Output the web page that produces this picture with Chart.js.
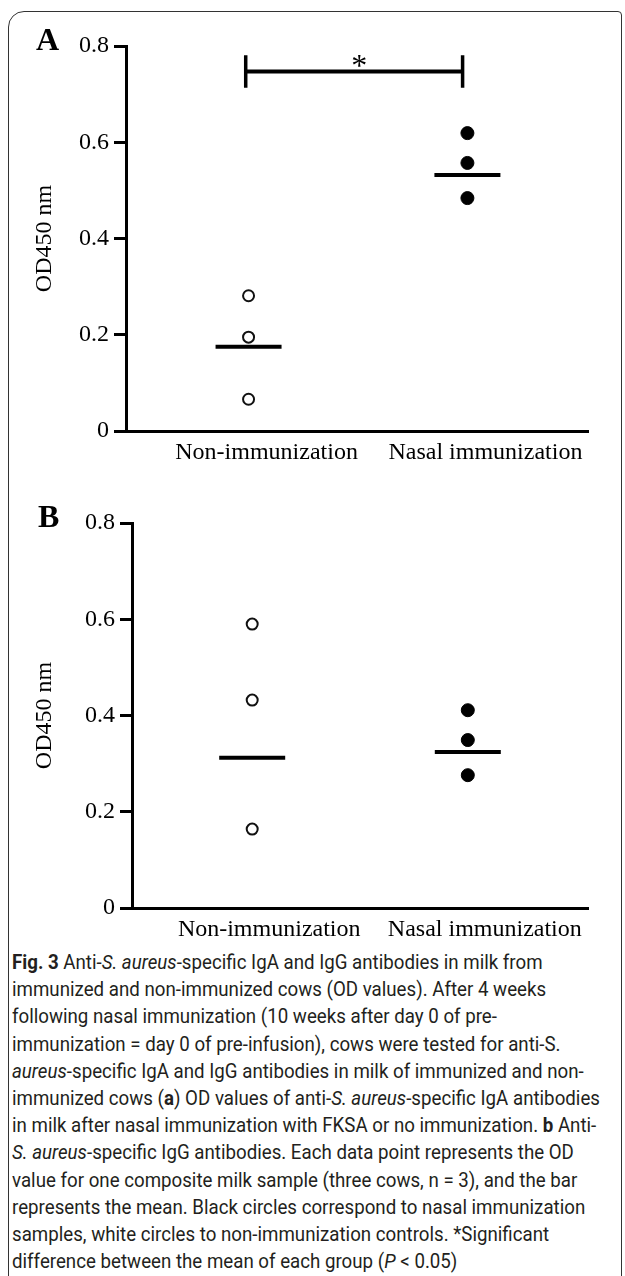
<!DOCTYPE html>
<html>
<head>
<meta charset="utf-8">
<script src="https://cdn.jsdelivr.net/npm/chart.js@4.4.0/dist/chart.umd.min.js"></script>
<style>
body { margin: 0; background: #fff; width: 625px; height: 1276px; overflow: hidden; position: relative; }
#frame { position: absolute; left: 8px; top: 11px; width: 614px; height: 1300px; border: 1.5px solid #333; border-top-left-radius: 16px; border-top-right-radius: 4px; box-sizing: border-box; }
.panel { position: absolute; left: 0; width: 625px; height: 470px; }
.tag { position: absolute; font: bold 32px "Liberation Serif", serif; line-height: 32px; color: #000; }
#caption { position: absolute; left: 12px; top: 949px; font-family: "Roboto", sans-serif; font-size: 20px; line-height: 27.2px; white-space: nowrap; color: #231f20; transform: scaleX(0.935); transform-origin: left top; }
</style>
</head>
<body>
<div id="frame"></div>
<div class="panel" style="top:0"><canvas id="chartA"></canvas></div>
<div class="panel" style="top:477px"><canvas id="chartB"></canvas></div>
<div class="tag" style="left:36px;top:23px">A</div>
<div class="tag" style="left:38px;top:500px">B</div>
<div id="caption">
<b>Fig. 3</b> Anti-<i>S. aureus</i>-specific IgA and IgG antibodies in milk from<br>
immunized and non-immunized cows (OD values). After 4 weeks<br>
following nasal immunization (10 weeks after day 0 of pre-<br>
immunization = day 0 of pre-infusion), cows were tested for anti-S.<br>
<i>aureus</i>-specific IgA and IgG antibodies in milk of immunized and non-<br>
immunized cows (<b>a</b>) OD values of anti-<i>S. aureus</i>-specific IgA antibodies<br>
in milk after nasal immunization with FKSA or no immunization. <b>b</b> Anti-<br>
<i>S. aureus</i>-specific IgG antibodies. Each data point represents the OD<br>
value for one composite milk sample (three cows, n = 3), and the bar<br>
represents the mean. Black circles correspond to nasal immunization<br>
samples, white circles to non-immunization controls. *Significant<br>
difference between the mean of each group (<i>P</i> &lt; 0.05)
</div>
<script>
const groups = ['Non-immunization', 'Nasal immunization'];
const yTicks = [0, 0.2, 0.4, 0.6, 0.8];

// A: IgA
const igaNon = [0.281, 0.195, 0.066];
const igaNasal = [0.619, 0.557, 0.484];
const igaMean = [0.175, 0.532];
const igaBracket = { from: 0.987, to: 1.978, y: 0.747, cap: 0.034 };

// B: IgG
const iggNon = [0.590, 0.432, 0.164];
const iggNasal = [0.411, 0.349, 0.276];
const iggMean = [0.312, 0.324];

const serif = '"Liberation Serif", "Times New Roman", serif';

const bracketPlugin = {
    id: 'bracket',
    afterDatasetsDraw(chart, args, opts) {
        const b = opts.data;
        if (!b) return;
        const { ctx, scales: { x, y } } = chart;
        const x1 = x.getPixelForValue(b.from);
        const x2 = x.getPixelForValue(b.to);
        const yy = y.getPixelForValue(b.y);
        const yTop = y.getPixelForValue(b.y + b.cap);
        const yBot = y.getPixelForValue(b.y - b.cap);
        ctx.save();
        ctx.strokeStyle = '#000';
        ctx.lineWidth = 4;
        ctx.beginPath();
        ctx.moveTo(x1, yy);
        ctx.lineTo(x2, yy);
        ctx.stroke();
        ctx.lineWidth = 3.5;
        ctx.beginPath();
        ctx.moveTo(x1, yTop); ctx.lineTo(x1, yBot);
        ctx.moveTo(x2, yTop); ctx.lineTo(x2, yBot);
        ctx.stroke();
        ctx.fillStyle = '#000';
        ctx.font = '32px ' + serif;
        ctx.textAlign = 'center';
        ctx.textBaseline = 'alphabetic';
        ctx.fillText('*', (x1 + x2) / 2 + 5, yy + 4);
        ctx.restore();
    }
};

function makePanel(id, non, nasal, means, cfg) {
    new Chart(document.getElementById(id), {
        type: 'scatter',
        data: {
            datasets: [
                {
                    data: non.map(v => ({ x: 1, y: v })),
                    pointStyle: 'circle',
                    pointRadius: 5.5,
                    borderWidth: 2,
                    borderColor: '#111',
                    backgroundColor: '#fff'
                },
                {
                    data: nasal.map(v => ({ x: 2, y: v })),
                    pointStyle: 'circle',
                    pointRadius: 6.5,
                    borderWidth: 1,
                    borderColor: '#000',
                    backgroundColor: '#000'
                },
                {
                    data: means.map((v, i) => ({ x: i + 1, y: v })),
                    pointStyle: 'line',
                    pointRadius: 33,
                    borderWidth: 4,
                    borderColor: '#000'
                }
            ]
        },
        options: {
            responsive: false,
            animation: false,
            events: [],
            layout: { padding: { top: 46, right: cfg.right, bottom: 0, left: 0 } },
            plugins: {
                legend: { display: false },
                tooltip: { enabled: false },
                bracket: { data: cfg.bracket }
            },
            scales: {
                x: {
                    type: 'linear',
                    min: cfg.xMin,
                    max: cfg.xMax,
                    afterBuildTicks: s => { s.ticks = [{ value: 1 }, { value: 2 }]; },
                    afterFit: s => { s.height = 39; },
                    grid: { display: false },
                    border: { display: true, width: 3, color: '#000' },
                    ticks: {
                        callback: v => groups[v - 1],
                        font: { family: serif, size: 24 },
                        color: '#000',
                        padding: -1,
                        labelOffset: cfg.labelOffset,
                        maxRotation: 0,
                        autoSkip: false
                    }
                },
                y: {
                    min: 0,
                    max: 0.8,
                    afterBuildTicks: s => { s.ticks = yTicks.map(v => ({ value: v })); },
                    afterFit: s => { s.width = cfg.left; },
                    grid: { drawOnChartArea: false, tickLength: 12, lineWidth: 3, color: '#000' },
                    border: { display: true, width: 3, color: '#000' },
                    ticks: {
                        callback: v => v === 0 ? '0' : v.toFixed(1),
                        font: { family: serif, size: 24 },
                        color: '#000',
                        padding: 5
                    },
                    title: {
                        display: true,
                        text: 'OD450 nm',
                        font: { family: serif, size: 24 },
                        color: '#000',
                        padding: { top: 30, bottom: 0 }
                    }
                }
            }
        },
        plugins: [bracketPlugin]
    });
}

['chartA', 'chartB'].forEach(id => {
    const c = document.getElementById(id);
    c.width = 625;
    c.height = 470;
});

makePanel('chartA', igaNon, igaNasal, igaMean, {
    left: 126, right: 24, xMin: 0.44, xMax: 2.551, labelOffset: 18, bracket: igaBracket
});
makePanel('chartB', iggNon, iggNasal, iggMean, {
    left: 132, right: 15, xMin: 0.4425, xMax: 2.5575, labelOffset: 17, bracket: null
});
</script>
</body>
</html>
